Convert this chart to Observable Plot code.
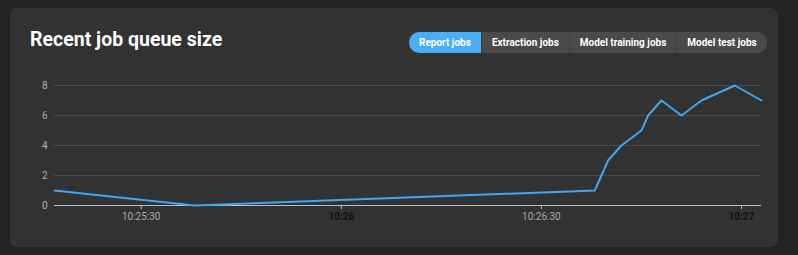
<!DOCTYPE html>
<html>
<head>
<meta charset="utf-8">
<script src="https://cdn.jsdelivr.net/npm/d3@7"></script>
<script src="https://cdn.jsdelivr.net/npm/@observablehq/plot@0.6"></script>
<style>
  html, body { margin: 0; padding: 0; background: #232323; width: 798px; height: 255px; overflow: hidden; font-family: Roboto, "Noto Sans", sans-serif; }
  #card { position: absolute; left: 10px; top: 8px; width: 768px; height: 239px; background: #323232; border-radius: 7px; }
  #title { position: absolute; left: 20px; top: 20px; color: #fff; font-size: 19.5px; font-weight: 700; letter-spacing: 0px; }
  #tabs { position: absolute; left: 399px; top: 24px; height: 21px; display: flex; border-radius: 11px; overflow: hidden; background: #4a4a4a; }
  .tab { height: 21px; line-height: 21px; color: #fff; font-size: 10px; font-weight: 700; padding: 0 10px; background: #4a4a4a; border-left: 1px solid #404040; box-sizing: border-box; }
  .tab:first-child { border-left: none; }
  .tab.active { background: #4aaef7; }
  #chart { position: absolute; left: 0; top: 62px; }
</style>
</head>
<body>
<div id="card">
  <div id="title">Recent job queue size</div>
  <div id="tabs"></div>
  <div id="chart"></div>
</div>
<script>
const times = ["10:25:17","10:25:38","10:26:38","10:26:40","10:26:42","10:26:45","10:26:46","10:26:48","10:26:51","10:26:54","10:26:59","10:27:03"];
const values = [1, 0, 1, 3, 4, 5, 6, 7, 6, 7, 8, 7];
const halfMinuteTicks = ["10:25:30", "10:26:30"];
const minuteTicks = ["10:26", "10:27"];
const yTicks = [0, 2, 4, 6, 8];
const tabs = ["Report jobs", "Extraction jobs", "Model training jobs", "Model test jobs"];
const activeTab = "Report jobs";

const tabsEl = document.getElementById("tabs");
tabs.forEach(t => {
  const d = document.createElement("div");
  d.className = "tab" + (t === activeTab ? " active" : "");
  d.textContent = t;
  tabsEl.appendChild(d);
});

const pHMS = d3.timeParse("%H:%M:%S");
const pHM = d3.timeParse("%H:%M");
const data = times.map((t, i) => ({time: pHMS(t), value: values[i]}));

const chart = Plot.plot({
  width: 768,
  height: 166,
  marginLeft: 44,
  marginRight: 17,
  marginTop: 15,
  marginBottom: 31,
  style: {background: "transparent", fontFamily: "Roboto, 'Noto Sans', sans-serif", fontSize: "10px"},
  x: {type: "time", domain: [data[0].time, data[data.length - 1].time]},
  y: {domain: [0, 8]},
  marks: [
    Plot.gridY(yTicks.filter(d => d !== 0), {stroke: "#4a4a55", strokeOpacity: 1}),
    Plot.ruleY([0], {stroke: "#bdbdbd"}),
    Plot.axisY(yTicks, {tickSize: 0, tickPadding: 7, fill: "#b0b0b0", label: null}),
    Plot.axisX(halfMinuteTicks.map(pHMS), {tickFormat: d3.timeFormat("%H:%M:%S"), stroke: "#bdbdbd", fill: "#a8a8a8", tickSize: 4, tickPadding: 3, label: null}),
    Plot.axisX(minuteTicks.map(pHM), {tickFormat: d3.timeFormat("%H:%M"), stroke: "#bdbdbd", fill: "#111", fontWeight: "bold", tickSize: 4, tickPadding: 3, label: null}),
    Plot.line(data, {x: "time", y: "value", stroke: "#42a5f0", strokeWidth: 2})
  ]
});
document.getElementById("chart").appendChild(chart);
</script>
</body>
</html>
